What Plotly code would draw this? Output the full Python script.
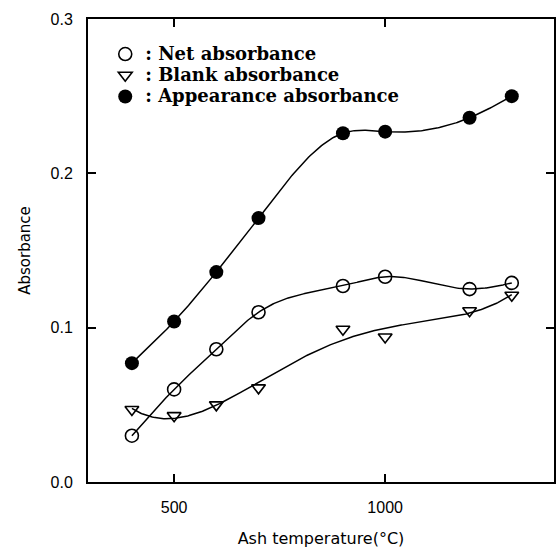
import numpy as np
import plotly.graph_objects as go

temps = [400, 500, 600, 700, 900, 1000, 1200, 1300]
net_abs = [0.030, 0.060, 0.086, 0.110, 0.127, 0.133, 0.125, 0.129]
blank_abs = [0.047, 0.043, 0.050, 0.061, 0.099, 0.094, 0.111, 0.121]
appear_abs = [0.077, 0.104, 0.136, 0.171, 0.226, 0.227, 0.236, 0.250]

x_ticks = [500, 1000]
y_ticks = [0.0, 0.1, 0.2, 0.3]


def natural_spline(x, y, xd):
    x = np.asarray(x, float)
    y = np.asarray(y, float)
    n = len(x)
    h = np.diff(x)
    A = np.zeros((n, n))
    r = np.zeros(n)
    A[0, 0] = 1
    A[-1, -1] = 1
    for i in range(1, n - 1):
        A[i, i - 1] = h[i - 1]
        A[i, i] = 2 * (h[i - 1] + h[i])
        A[i, i + 1] = h[i]
        r[i] = 6 * ((y[i + 1] - y[i]) / h[i] - (y[i] - y[i - 1]) / h[i - 1])
    m = np.linalg.solve(A, r)
    out = np.empty_like(xd)
    for k, xv in enumerate(xd):
        i = min(max(np.searchsorted(x, xv) - 1, 0), n - 2)
        t0 = x[i + 1] - xv
        t1 = xv - x[i]
        out[k] = (m[i] * t0 ** 3 + m[i + 1] * t1 ** 3) / (6 * h[i]) \
            + (y[i] / h[i] - m[i] * h[i] / 6) * t0 + (y[i + 1] / h[i] - m[i + 1] * h[i] / 6) * t1
    return out


tx = np.array(temps, dtype=float)
xd = np.linspace(tx.min(), tx.max(), 300)
appear_curve = natural_spline(temps, appear_abs, xd)
net_curve = natural_spline(temps, net_abs, xd)
coef = np.polyfit((tx - 850) / 450, np.array(blank_abs), 4)
blank_curve = np.polyval(coef, (xd - 850) / 450)

fig = go.Figure()
line_style = dict(color="black", width=1.5)
for yc in (appear_curve, net_curve, blank_curve):
    fig.add_trace(go.Scatter(x=xd, y=yc, mode="lines", line=line_style, showlegend=False, hoverinfo="skip"))


def leg(txt):
    return '<span style="font-size:18px">:\u00a0' + txt + '</span>'


fig.add_trace(go.Scatter(x=temps, y=net_abs, mode="markers", name=leg("Net absorbance"),
                         marker=dict(symbol="circle-open", size=13, color="black", line=dict(width=1.6))))
fig.add_trace(go.Scatter(x=temps, y=blank_abs, mode="markers", name=leg("Blank absorbance"),
                         marker=dict(symbol="triangle-down-open", size=12, color="black", line=dict(width=1.6))))
fig.add_trace(go.Scatter(x=temps, y=appear_abs, mode="markers", name=leg("Appearance absorbance"),
                         marker=dict(symbol="circle", size=14, color="black")))

axis_common = dict(showgrid=False, zeroline=False, showline=True, linecolor="black", linewidth=2,
                   mirror="ticks", ticks="inside", ticklen=8, tickwidth=1.5, tickcolor="black",
                   automargin=False,
                   tickfont=dict(family="Liberation Sans, Arial", size=16, color="black"))

fig.update_layout(
    width=560, height=548,
    margin=dict(l=88, r=6, t=19, b=66),
    plot_bgcolor="white", paper_bgcolor="white",
    xaxis=dict(range=[296, 1400], tickvals=x_ticks, ticktext=[str(v) for v in x_ticks],
               title=dict(text="Ash temperature(°C)", font=dict(family="DejaVu Sans", size=16, color="black"),
                          standoff=20),
               ticklabelstandoff=10, **axis_common),
    yaxis=dict(range=[0, 0.3], tickvals=y_ticks, ticktext=[f"{v:.1f}" for v in y_ticks],
               title=dict(text="Absorbance", font=dict(family="DejaVu Sans", size=15, color="black"),
                          standoff=16),
               ticklabelstandoff=10, **axis_common),
    legend=dict(x=0.037, y=0.958, xanchor="left", yanchor="top", bgcolor="rgba(0,0,0,0)",
                font=dict(family="DejaVu Serif", size=14, color="black", weight="bold"),
                tracegroupgap=0, itemsizing="trace"),
)

fig.write_html("out.html")
